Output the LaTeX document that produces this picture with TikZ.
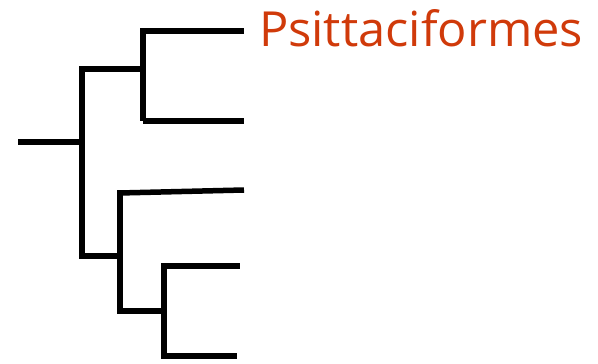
\documentclass[tikz,border=0pt]{standalone}
\usepackage{fontspec}
\setmainfont{Open Sans}
\usepackage{graphicx}
\definecolor{labelred}{RGB}{208,58,10}
\begin{document}
\begin{tikzpicture}[x=1pt,y=-1pt,
  branch/.style={line width=5.5pt,line cap=butt,line join=miter,black},
  taxon/.style={inner sep=0pt,outer sep=0pt,anchor=base west,text=labelred}]
\useasboundingbox (0,0) rectangle (598,364);
% nodes of the tree
\coordinate (root) at (18,142);
\coordinate (n1) at (82,142);
\coordinate (n1t) at (82,66);
\coordinate (n1b) at (82,259);
\coordinate (n2) at (143,69);
\coordinate (n2t) at (143,28);
\coordinate (n2b) at (143,121);
\coordinate (l1) at (244,31);
\coordinate (l2) at (244,121);
\coordinate (n3) at (120,256);
\coordinate (n3t) at (120,190);
\coordinate (n3b) at (120,314);
\coordinate (l3a) at (122,193);
\coordinate (l3) at (244,190);
\coordinate (n4) at (164,311);
\coordinate (n4t) at (164,263);
\coordinate (n4b) at (164,359);
\coordinate (l4) at (240,266);
\coordinate (l5) at (237,356);
% branches
\draw[branch] (root) -- (n1);
\draw[branch] (n1t) -- (n1b);
\draw[branch] (n1 |- n2) -- (n2);
\draw[branch] (n2t) -- (n2b);
\draw[branch] (n2t |- l1) -- (l1);
\draw[branch] (n2b |- l2) -- (l2);
\draw[branch] (n1 |- n3) -- ([xshift=3pt]n3);
\draw[branch] (n3t) -- (n3b);
\draw[branch] ([xshift=-2.75pt]l3a) -- (l3);
\draw[branch] (n3 |- n4) -- (n4);
\draw[branch] (n4t) -- (n4b);
\draw[branch] (n4t |- l4) -- (l4);
\draw[branch] (n4b |- l5) -- (l5);
% label
\node[taxon] (psit) at (259,46) {\resizebox{324pt}{37pt}{Psittaciformes}};
\end{tikzpicture}
\end{document}
